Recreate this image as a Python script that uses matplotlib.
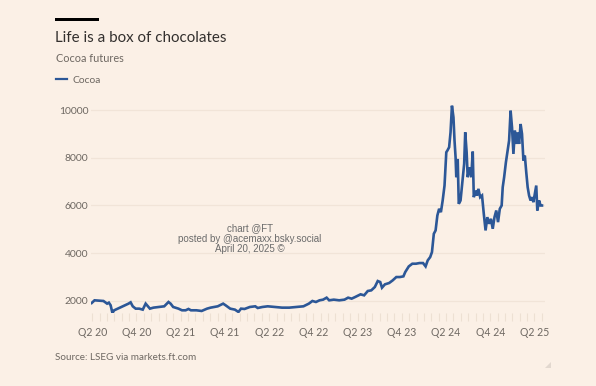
import matplotlib
matplotlib.use("Agg")
import matplotlib.pyplot as plt
from matplotlib.ticker import FixedLocator, MultipleLocator
from matplotlib.patches import Rectangle, Polygon
from matplotlib.lines import Line2D

# cocoa futures (x = decimal year)
dates = [2020.244, 2020.276, 2020.377, 2020.418, 2020.438, 2020.458, 2020.478, 2020.498,
         2020.539, 2020.579, 2020.619, 2020.660, 2020.684, 2020.708, 2020.741, 2020.781,
         2020.821, 2020.854, 2020.870, 2020.902, 2020.942, 2021.003, 2021.064, 2021.112,
         2021.136, 2021.165, 2021.225, 2021.265, 2021.306, 2021.338, 2021.366, 2021.427,
         2021.487, 2021.548, 2021.588, 2021.669, 2021.730, 2021.758, 2021.810, 2021.863,
         2021.903, 2021.932, 2021.972, 2022.032, 2022.093, 2022.121, 2022.174, 2022.234,
         2022.315, 2022.396, 2022.477, 2022.557, 2022.638, 2022.699, 2022.739, 2022.779,
         2022.820, 2022.860, 2022.900, 2022.929, 2022.981, 2023.042, 2023.102, 2023.143,
         2023.183, 2023.223, 2023.284, 2023.324, 2023.365, 2023.405, 2023.445, 2023.478,
         2023.506, 2023.526, 2023.559, 2023.607, 2023.647, 2023.688, 2023.728, 2023.768,
         2023.789, 2023.829, 2023.869, 2023.910, 2023.950, 2023.990, 2024.019, 2024.043,
         2024.071, 2024.091, 2024.112, 2024.132, 2024.152, 2024.172, 2024.192, 2024.212,
         2024.233, 2024.253, 2024.265, 2024.285, 2024.301, 2024.317, 2024.334, 2024.346,
         2024.358, 2024.366, 2024.382, 2024.394, 2024.414, 2024.435, 2024.455, 2024.467,
         2024.483, 2024.495, 2024.515, 2024.535, 2024.552, 2024.564, 2024.584, 2024.600,
         2024.616, 2024.636, 2024.657, 2024.677, 2024.697, 2024.717, 2024.737, 2024.758,
         2024.778, 2024.798, 2024.818, 2024.838, 2024.858, 2024.879, 2024.891, 2024.907,
         2024.927, 2024.947, 2024.963, 2024.980, 2024.996, 2025.012, 2025.028, 2025.044,
         2025.060, 2025.076, 2025.093, 2025.109, 2025.125, 2025.141, 2025.157, 2025.173,
         2025.189, 2025.206, 2025.222, 2025.238, 2025.254, 2025.270, 2025.282, 2025.302,
         2025.319, 2025.335]
cocoa = [1916, 2028, 2000, 1889, 1930, 1820, 1498, 1610,
         1679, 1749, 1819, 1889, 1944, 1777, 1679, 1679,
         1638, 1889, 1819, 1679, 1721, 1749, 1777, 1958,
         1889, 1749, 1679, 1610, 1610, 1666, 1610, 1610,
         1582, 1679, 1721, 1777, 1889, 1819, 1679, 1638,
         1540, 1679, 1666, 1749, 1777, 1707, 1749, 1777,
         1749, 1721, 1721, 1749, 1777, 1889, 2000, 1958,
         2028, 2056, 2139, 2028, 2056, 2028, 2056, 2139,
         2098, 2167, 2279, 2237, 2418, 2446, 2585, 2836,
         2794, 2557, 2697, 2753, 2864, 3003, 3003, 3031,
         3213, 3449, 3561, 3561, 3589, 3589, 3449, 3700,
         3840, 4049, 4815, 4955, 5582, 5861, 5721, 6209,
         6836, 8230, 8300, 8439, 9066, 10181, 9693, 8718,
         8021, 7185, 7951, 6070, 6209, 6976, 7742, 9066,
         8230, 7185, 7603, 7185, 8258, 6348, 6627, 6418,
         6697, 6348, 6418, 5652, 4955, 5512, 5233, 5443,
         5024, 5512, 5791, 5303, 5861, 6000, 6767, 7185,
         7812, 8300, 8718, 9972, 9275, 8160, 9136, 8579,
         9066, 8579, 9415, 9000, 7882, 8091, 7394, 6767,
         6418, 6209, 6348, 6139, 6488, 6836, 5791, 6209,
         6000, 6000]

y_ticks = [2000, 4000, 6000, 8000, 10000]
q_ticks = [2020.25, 2020.75, 2021.25, 2021.75, 2022.25, 2022.75,
           2023.25, 2023.75, 2024.25, 2024.75, 2025.25]
q_labels = ["Q2 20", "Q4 20", "Q2 21", "Q4 21", "Q2 22", "Q4 22",
            "Q2 23", "Q4 23", "Q2 24", "Q4 24", "Q2 25"]

bg = "#FBF0E6"
blue = "#2C5797"
grey = "#6E6862"
dark = "#33302E"
W, H = 596, 386

def fx(px):
    return px / W

def fy(py):
    return 1 - py / H

plt.rcParams['font.family'] = ['Lato', 'DejaVu Sans']

fig = plt.figure(figsize=(W / 100, H / 100), dpi=100, facecolor=bg)
ax = fig.add_axes([fx(91), fy(313.4), (545 - 91) / W, (313.4 - 105) / H])
ax.set_facecolor(bg)

ax.plot(dates, cocoa, color=blue, lw=1.9, solid_joinstyle="miter")

ax.set_xlim(2020.236, 2025.369)
ax.set_ylim(1480, 10210)

ax.yaxis.set_major_locator(FixedLocator(y_ticks))
ax.xaxis.set_major_locator(FixedLocator(q_ticks))
ax.set_xticklabels(q_labels)
ax.xaxis.set_minor_locator(MultipleLocator(1 / 12))
ax.grid(axis="y", color="#F1E4D8", lw=0.9)
ax.set_axisbelow(True)
for s in ax.spines.values():
    s.set_visible(False)
ax.tick_params(axis="y", length=0, pad=2, labelsize=7.5, labelcolor=grey)
ax.tick_params(axis="x", which="both", length=6, width=0.8, color="#EDE0D3",
               pad=4, labelsize=7.6, labelcolor=grey)

# header
fig.add_artist(Rectangle((fx(55.3), fy(21)), (98.7 - 55.3) / W, 3 / H,
                         transform=fig.transFigure, color="#000000", lw=0))
fig.text(fx(55), fy(41.7), "Life is a box of chocolates", fontsize=10.9,
         color=dark, va="baseline", ha="left")
fig.text(fx(55.5), fy(62.3), "Cocoa futures", fontsize=7.8,
         color=grey, va="baseline", ha="left")
fig.add_artist(Line2D([fx(55.7), fx(66.7)], [fy(79.3), fy(79.3)],
                      transform=fig.transFigure, color=blue, lw=1.6))
fig.text(fx(72.7), fy(83.3), "Cocoa", fontsize=7.4, color=grey,
         va="baseline", ha="left")

# watermark
fig.text(fx(250), fy(239), "chart @FT\nposted by @acemaxx.bsky.social\nApril 20, 2025 \u00a9",
         ha="center", va="center", fontsize=7.0, color="#6B6B6B",
         family=["Liberation Sans", "DejaVu Sans"], linespacing=1.05)

# footer
fig.text(fx(55), fy(357.3), "Source: LSEG via markets.ft.com", fontsize=7.1,
         color=grey, va="center", ha="left")
fig.add_artist(Polygon([[fx(551), fy(368)], [fx(545), fy(368)], [fx(551), fy(362)]],
                       closed=True, transform=fig.transFigure, color="#E2D8CF", lw=0))

fig.savefig("out.png", dpi=100, facecolor=bg)
